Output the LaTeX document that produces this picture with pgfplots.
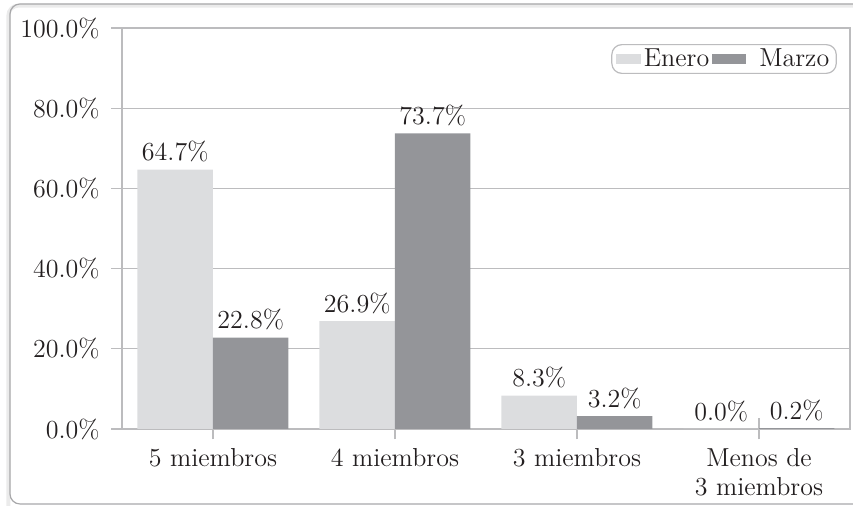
\documentclass[border=0pt]{standalone}
\usepackage{fontspec}
\usepackage{pgfplots}
\pgfplotsset{compat=1.18}

\definecolor{barlight}{RGB}{220,221,223}
\definecolor{bardark}{RGB}{148,149,153}
\definecolor{linegray}{RGB}{188,188,190}
\definecolor{framegray}{RGB}{168,168,170}
\definecolor{txt}{RGB}{35,31,32}

\newcommand\chartfont{\fontsize{13}{14.5}\selectfont}

\pgfplotstableread{
cat enero marzo
0   64.7  22.8
1   26.9  73.7
2   8.3   3.2
3   0.0   0.2
}\hogares

\begin{document}
\begin{tikzpicture}[font=\chartfont, text=txt]
\begin{axis}[
  scale only axis,
  width=364pt, height=200.5pt,
  xmin=-0.5, xmax=3.5, ymin=0, ymax=100,
  ybar=0pt, bar width=37.75pt,
  axis line style={linegray, line width=0.6pt},
  ymajorgrids, grid style={linegray, line width=0.6pt},
  tick style={linegray, line width=0.6pt},
  tick align=center, major tick length=10.5pt,
  tick pos=left,
  /pgf/number format/assume math mode=true,
  ytick={0,20,40,60,80,100},
  yticklabel={\pgfmathprintnumber[fixed,fixed zerofill,precision=1]{\tick}\%},
  yticklabel style={anchor=east, inner sep=0pt, xshift=-5.75pt},
  xtick={0,1,2,3},
  xticklabels={5 miembros, 4 miembros, 3 miembros, {Menos de\\3 miembros}},
  xticklabel style={align=center, anchor=north, inner sep=0pt, yshift=-4.5pt},
  tick label style={font=\chartfont, text=txt},
  nodes near coords={\pgfmathprintnumber[fixed,fixed zerofill,precision=1]{\pgfplotspointmeta}\%},
  nodes near coords style={font=\chartfont, text=txt, inner sep=3.5pt},
  legend columns=2,
  legend style={at={(0.982,0.96)}, anchor=north east,
    draw=linegray, line width=0.6pt, rounded corners=5pt,
    inner xsep=2pt, inner ysep=0pt,
    nodes={inner xsep=1.5pt, inner ysep=2pt, text=txt},
    font=\chartfont,
    /tikz/column 3/.style={column sep=5pt}},
]
\addplot[fill=barlight, draw=none,
  legend image code/.code={\fill[barlight, sharp corners] (0pt,-2.5pt) rectangle (12.5pt,2.5pt);}]
  table[x=cat, y=enero] {\hogares};
\addplot[fill=bardark, draw=none,
  legend image code/.code={\fill[bardark, sharp corners] (0pt,-2.5pt) rectangle (17pt,2.5pt);}]
  table[x=cat, y=marzo] {\hogares};
\legend{Enero, Marzo}
\end{axis}
% rounded chart frame
\draw[black!8, line width=2pt, rounded corners=5pt] (-56.8pt,-38.5pt) -- (-56.8pt,211.7pt) -- (372pt,211.7pt);
\draw[framegray, line width=0.6pt, rounded corners=5pt] (-56pt,-37.5pt) rectangle (372pt,212.5pt);
\pgfresetboundingbox
\useasboundingbox (-61pt,-38.5pt) rectangle (365.5pt,214.5pt);
\end{tikzpicture}
\end{document}
